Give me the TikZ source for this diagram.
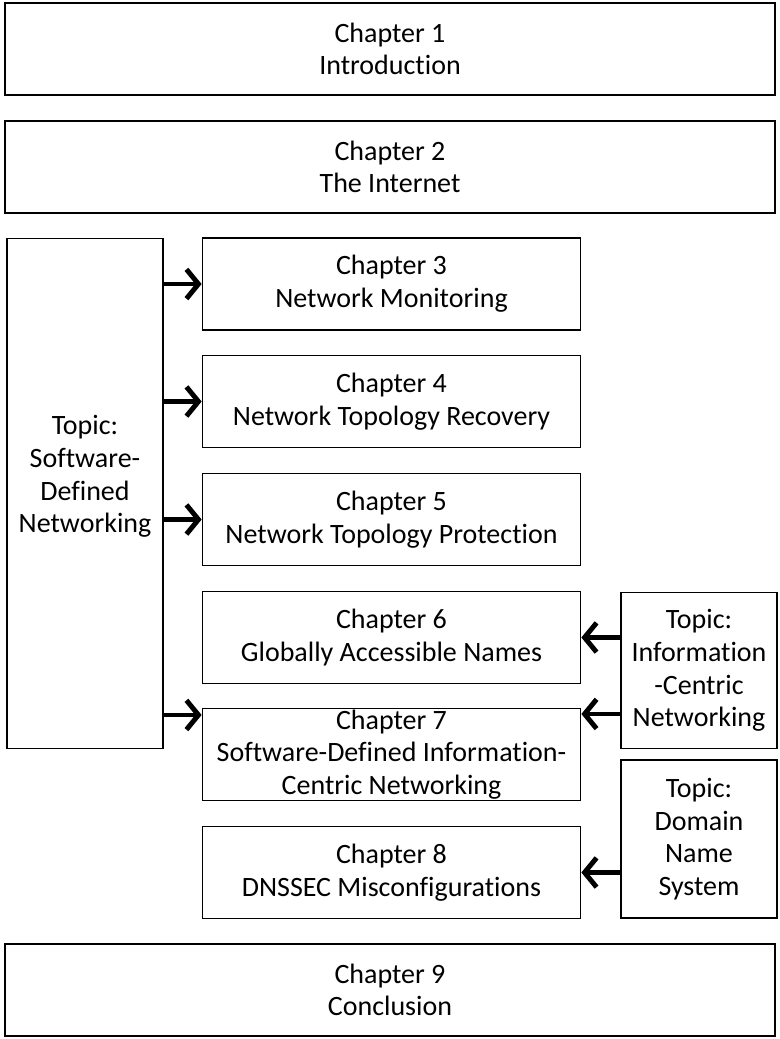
\documentclass[tikz,border=0pt]{standalone}
\usepackage{fontspec}
\setmainfont{Carlito}[Ligatures=NoCommon]
\usetikzlibrary{arrows.meta, calc}
\tikzset{
    my-box/.style={
        draw, line width=0.8pt, align=center, inner sep=0pt,
        font=\fontsize{21pt}{24.5pt}\selectfont
    },
    my-wide-box/.style={
        my-box, minimum width=577.5pt, minimum height=69pt
    },
    my-chapter-box/.style={
        my-box, minimum width=284pt, minimum height=69pt
    },
    my-topic-box/.style={
        my-box, minimum width=117pt
    },
    my-arrow/.style={
        line width=3.7pt, -{Straight Barb[length=9pt, width=22pt]}
    },
}
\begin{document}
\begin{tikzpicture}[x=0.75pt, y=-0.75pt]

        \useasboundingbox (0, 0) rectangle (780, 1039);

        % WIDE CHAPTERS
        \node[my-wide-box] (CH1) at (390, 49)             {Chapter 1\\Introduction};
        \node[my-wide-box] (CH2) at ($(CH1) + (0, 118)$)  {Chapter 2\\The Internet};
        \node[my-wide-box] (CH9) at ($(CH1) + (0, 941)$)  {Chapter 9\\Conclusion};

        % MIDDLE CHAPTERS
        \node[my-chapter-box] (CH3) at (391.5, 284)          {Chapter 3\\Network Monitoring};
        \node[my-chapter-box] (CH4) at ($(CH3) + (0, 117.5)$) {Chapter 4\\Network Topology Recovery};
        \node[my-chapter-box] (CH5) at ($(CH4) + (0, 118)$)   {Chapter 5\\Network Topology Protection};
        \node[my-chapter-box] (CH6) at ($(CH5) + (0, 118)$)   {Chapter 6\\Globally Accessible Names};
        \node[my-chapter-box] (CH7) at ($(CH6) + (0, 117)$)   {Chapter 7\\Software-Defined Information-\\Centric Networking};
        \node[my-chapter-box] (CH8) at ($(CH7) + (0, 118)$)   {Chapter 8\\DNSSEC Misconfigurations};

        % TOPICS
        \node[my-topic-box, minimum height=383pt, text depth=29pt] (SDN) at (85, 493.5) {Topic:\\Software-\\Defined\\Networking};
        \node[my-topic-box, minimum height=117.5pt] (ICN) at (699, 670.5)  {Topic:\\Information\\-Centric\\Networking};
        \node[my-topic-box, minimum height=118.5pt] (DNS) at (699, 839)    {Topic:\\Domain\\Name\\System};

        % ARROW COORDINATES
        \coordinate (CH7IN1) at ($(CH7.north west) + (0, 7)$);
        \coordinate (CH7IN2) at ($(CH7.north east) + (0, 6)$);

        % SDN ARROWS
        \draw[my-arrow] (SDN.east |- CH3.west) -- (CH3.west);
        \draw[my-arrow] (SDN.east |- CH4.west) -- (CH4.west);
        \draw[my-arrow] (SDN.east |- CH5.west) -- (CH5.west);
        \draw[my-arrow] (SDN.east |- CH7IN1) -- (CH7IN1);

        % ICN AND DNS ARROWS
        \draw[my-arrow] (ICN.west |- CH6.east) -- (CH6.east);
        \draw[my-arrow] (ICN.west |- CH7IN2) -- (CH7IN2);
        \draw[my-arrow] (DNS.west |- CH8.east) -- (CH8.east);

    \end{tikzpicture}
\end{document}
